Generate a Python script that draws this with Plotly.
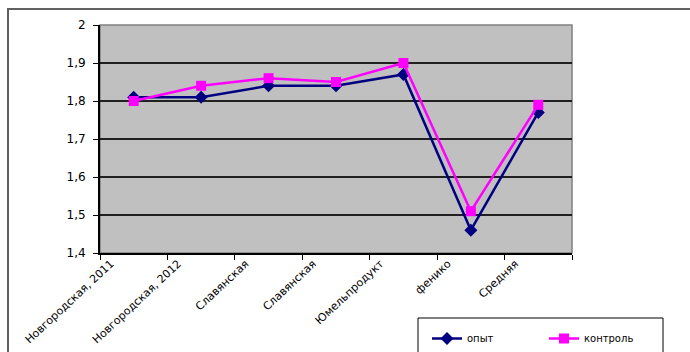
import plotly.graph_objects as go

# Categories and series values
categories = ["Новгородская, 2011", "Новгородская, 2012", "Славянская", "Славянская",
              "Юмельпродукт", "фенико", "Средняя"]
opyt = [1.81, 1.81, 1.84, 1.84, 1.87, 1.46, 1.77]
kontrol = [1.80, 1.84, 1.86, 1.85, 1.90, 1.51, 1.79]
y_ticks = [1.4, 1.5, 1.6, 1.7, 1.8, 1.9, 2.0]
y_ticktext = ["1,4", "1,5", "1,6", "1,7", "1,8", "1,9", "2"]

W, H = 690, 352
L, R, T, B = 100, 118, 25, 99
pw, ph = W - L - R, H - T - B


def px_x(x):
    return (x - L) / pw


def px_y(y):
    return (T + ph - y) / ph


xs = list(range(len(categories)))

fig = go.Figure()
fig.add_trace(go.Scatter(
    x=xs, y=opyt, name="опыт", mode="lines+markers",
    line=dict(color="#000080", width=2.5),
    marker=dict(symbol="diamond", size=10, color="#000080"),
))
fig.add_trace(go.Scatter(
    x=xs, y=kontrol, name="контроль", mode="lines+markers",
    line=dict(color="#FF00FF", width=2.5),
    marker=dict(symbol="square", size=10, color="#FF00FF"),
))

# gray frame around the plot area
fig.add_shape(type="rect", xref="paper", yref="paper", x0=0, x1=1, y0=0, y1=1,
              line=dict(color="#808080", width=1.5), layer="below")
# outer chart border (left and top edges visible)
fig.add_shape(type="rect", xref="paper", yref="paper",
              x0=px_x(8), x1=px_x(W + 10), y0=px_y(H + 10), y1=px_y(9),
              line=dict(color="#606060", width=2))
# legend frame
fig.add_shape(type="rect", xref="paper", yref="paper",
              x0=px_x(418), x1=px_x(663), y0=px_y(H + 10), y1=px_y(318),
              line=dict(color="black", width=1), fillcolor="white", layer="above")

fig.update_layout(
    width=W, height=H,
    margin=dict(l=L, r=R, t=T, b=B, pad=0, autoexpand=False),
    paper_bgcolor="white", plot_bgcolor="#C0C0C0",
    font=dict(family="DejaVu Sans, Arial, sans-serif", size=11, color="black"),
    showlegend=True,
    legend=dict(
        orientation="h", xref="container", yref="container",
        x=427 / W, y=1 - 324 / H,
        xanchor="left", yanchor="top",
        borderwidth=0, bgcolor="rgba(0,0,0,0)",
        entrywidth=72, entrywidthmode="pixels",
        font=dict(size=10), itemwidth=30,
    ),
    xaxis=dict(
        range=[-0.5, len(categories) - 0.5], automargin=False,
        tickmode="array", tickvals=[i - 0.34 for i in xs], ticktext=categories,
        tickangle=-43, ticks="", showgrid=False, zeroline=False,
        showline=True, linecolor="black", linewidth=2,
        tickfont=dict(size=11), ticklabelstandoff=-2,
        minor=dict(tickmode="array",
                   tickvals=[i - 0.5 for i in range(len(categories) + 1)],
                   ticks="outside", ticklen=5, tickcolor="black", tickwidth=1,
                   showgrid=False),
    ),
    yaxis=dict(
        range=[1.4, 2.0], tickmode="array", tickvals=y_ticks, ticktext=y_ticktext,
        automargin=False,
        ticks="outside", ticklen=5, tickcolor="black",
        showgrid=True, gridcolor="#202020", gridwidth=1.5, zeroline=False,
        showline=True, linecolor="black", linewidth=2,
        tickfont=dict(size=12), ticklabelstandoff=5,
    ),
)

fig.write_html("out.html")
